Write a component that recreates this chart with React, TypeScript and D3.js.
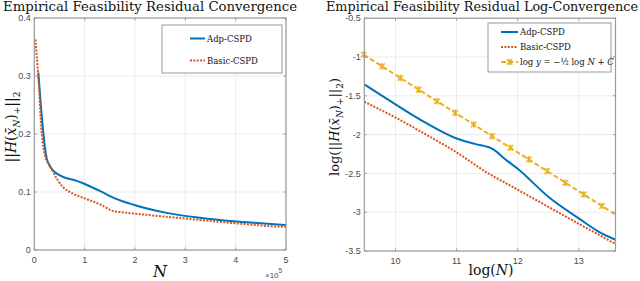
import * as d3 from 'd3';

// left panel: N vs residual
const adpN = [8000, 13000, 18000, 24600, 33000, 44500, 60000, 77500, 97000, 115000, 130000, 160000, 197000, 263000, 329000, 395000, 450000, 500000];
const adpRes = [0.306, 0.25, 0.201, 0.158, 0.142, 0.132, 0.125, 0.121, 0.115, 0.108, 0.102, 0.089, 0.078, 0.064, 0.0555, 0.0495, 0.046, 0.043];
const basicN = [2000, 8000, 14700, 21300, 30000, 37700, 47000, 57600, 75000, 97000, 130000, 157000, 175000, 230000, 296000, 362000, 428000, 470000, 500000];
const basicRes = [0.363, 0.299, 0.201, 0.163, 0.146, 0.134, 0.12, 0.108, 0.098, 0.09, 0.079, 0.067, 0.065, 0.06, 0.0546, 0.049, 0.044, 0.041, 0.04];

// right panel: log N vs log residual
const adpLogN = [9.49, 10, 10.5, 11, 11.3, 11.6, 11.8, 12, 12.5, 13, 13.3, 13.6];
const adpLogRes = [-1.353, -1.61, -1.85, -2.05, -2.12, -2.19, -2.32, -2.44, -2.8, -3.08, -3.24, -3.355];
const basicLogN = [9.49, 10, 10.5, 11, 11.5, 12, 12.5, 13, 13.3, 13.6];
const basicLogRes = [-1.577, -1.78, -2.0, -2.23, -2.49, -2.71, -2.93, -3.15, -3.28, -3.41];
const refLogN = [9.48, 9.78, 10.08, 10.38, 10.68, 10.98, 11.28, 11.58, 11.88, 12.18, 12.48, 12.78, 13.08, 13.38, 13.6];
const refLogRes = [-0.97, -1.12, -1.27, -1.42, -1.57, -1.72, -1.87, -2.02, -2.17, -2.32, -2.47, -2.62, -2.77, -2.92, -3.03];
const refMarked = 14; // markers on the first 14 points

const leftXTicks = [0, 1, 2, 3, 4, 5];
const leftYTicks = [0, 0.1, 0.2, 0.3, 0.4];
const rightXTicks = [10, 11, 12, 13];
const rightYTicks = [-0.5, -1, -1.5, -2, -2.5, -3, -3.5];

const BLUE = '#0072BD';
const RED = '#D95319';
const GOLD = '#EDB120';
const AXIS = '#9a9a9a';
const GRID = '#ebebeb';
const TICKTXT = '#4a4a4a';
const SERIF = '"DejaVu Serif", serif';
const SANS = '"Liberation Sans", Arial, sans-serif';

function Grid({ x, y, xTicks, yTicks }: any) {
  const [x0, x1] = x.range();
  const [y1, y0] = y.range();
  return (
    <g>
      {xTicks.map((t: number) => (
        <line key={'gx' + t} x1={x(t)} x2={x(t)} y1={y0} y2={y1} stroke={GRID} />
      ))}
      {yTicks.map((t: number) => (
        <line key={'gy' + t} x1={x0} x2={x1} y1={y(t)} y2={y(t)} stroke={GRID} />
      ))}
    </g>
  );
}

function Box({ x, y, xTicks, yTicks }: any) {
  const [x0, x1] = x.range();
  const [y1, y0] = y.range();
  return (
    <g>
      <rect x={x0} y={y0} width={x1 - x0} height={y1 - y0} fill="none" stroke={AXIS} strokeWidth={1.2} />
      {xTicks.map((t: number) => (
        <g key={'tx' + t}>
          <line x1={x(t)} x2={x(t)} y1={y1} y2={y1 - 2.5} stroke={AXIS} />
          <line x1={x(t)} x2={x(t)} y1={y0} y2={y0 + 2.5} stroke={AXIS} />
          <text x={x(t)} y={y1 + 12.5} textAnchor="middle" fontFamily={SANS} fontSize={9} fill={TICKTXT}>
            {String(t)}
          </text>
        </g>
      ))}
      {yTicks.map((t: number) => (
        <g key={'ty' + t}>
          <line x1={x0} x2={x0 + 2.5} y1={y(t)} y2={y(t)} stroke={AXIS} />
          <line x1={x1} x2={x1 - 2.5} y1={y(t)} y2={y(t)} stroke={AXIS} />
          <text x={x0 - 3.5} y={y(t)} dy="0.35em" textAnchor="end" fontFamily={SANS} fontSize={9} fill={TICKTXT}>
            {String(t)}
          </text>
        </g>
      ))}
    </g>
  );
}

function asterisk(cx: number, cy: number, r: number) {
  const p = d3.path();
  p.moveTo(cx - r, cy - r); p.lineTo(cx + r, cy + r);
  p.moveTo(cx - r, cy + r); p.lineTo(cx + r, cy - r);
  p.moveTo(cx, cy - r * 1.2); p.lineTo(cx, cy + r * 1.2);
  return p.toString();
}

function NormLabel() {
  return (
    <>
      <tspan>||</tspan>
      <tspan fontStyle="italic">H</tspan>
      <tspan>(</tspan>
      <tspan fontStyle="italic">x̄</tspan>
      <tspan fontStyle="italic" fontSize="9" dy="3.5">N</tspan>
      <tspan dy="-3.5">)</tspan>
      <tspan fontSize="9" dy="3.5">+</tspan>
      <tspan dy="-3.5">||</tspan>
      <tspan fontSize="9" dy="3.5">2</tspan>
    </>
  );
}

export default function App() {
  const W = 640;
  const H = 281;

  const lx = d3.scaleLinear().domain([0, 5e5]).range([34.3, 286]);
  const ly = d3.scaleLinear().domain([0, 0.4]).range([250, 18]);
  const lxt = d3.scaleLinear().domain([0, 5]).range([34.3, 286]);

  const rx = d3.scaleLinear().domain([9.49, 13.6]).range([364.3, 615.5]);
  const ry = d3.scaleLinear().domain([-3.5, -0.5]).range([251, 18.2]);

  const leftLine = d3.line<[number, number]>().x((d) => lx(d[0])).y((d) => ly(d[1])).curve(d3.curveMonotoneX);
  const rightLine = d3.line<[number, number]>().x((d) => rx(d[0])).y((d) => ry(d[1])).curve(d3.curveMonotoneX);
  const linear = d3.line<[number, number]>().x((d) => rx(d[0])).y((d) => ry(d[1]));

  const adpL = adpN.map((n, i) => [n, adpRes[i]] as [number, number]);
  const basicL = basicN.map((n, i) => [n, basicRes[i]] as [number, number]);
  const adpR = adpLogN.map((n, i) => [n, adpLogRes[i]] as [number, number]);
  const basicR = basicLogN.map((n, i) => [n, basicLogRes[i]] as [number, number]);
  const refR = refLogN.map((n, i) => [n, refLogRes[i]] as [number, number]);

  return (
    <svg width={W} height={H} style={{ position: 'absolute', left: 0, top: 0, background: '#fff' }}>
      <rect width={W} height={H} fill="#fff" />

      {/* left panel */}
      <Grid x={lxt} y={ly} xTicks={leftXTicks} yTicks={leftYTicks} />
      <path d={leftLine(adpL) ?? ''} fill="none" stroke={BLUE} strokeWidth={2} />
      <path d={leftLine(basicL) ?? ''} fill="none" stroke={RED} strokeWidth={2} strokeDasharray="2 1.4" />
      <Box x={lxt} y={ly} xTicks={leftXTicks} yTicks={leftYTicks} />

      <text x={150} y={10.5} textAnchor="middle" fontFamily={SERIF} fontSize={12} textLength={294} lengthAdjust="spacingAndGlyphs" fill="#111">
        Empirical Feasibility Residual Convergence
      </text>

      <g>
        <rect x={162} y={25} width={120} height={48} fill="#fff" stroke={AXIS} strokeWidth={1} />
        <line x1={190} x2={205} y1={38.5} y2={38.5} stroke={BLUE} strokeWidth={2} />
        <text x={207} y={41.5} fontFamily={SERIF} fontSize={8.5} fill="#111">Adp-CSPD</text>
        <line x1={190} x2={205} y1={60.5} y2={60.5} stroke={RED} strokeWidth={2} strokeDasharray="2 1.4" />
        <text x={207} y={63.5} fontFamily={SERIF} fontSize={8.5} fill="#111">Basic-CSPD</text>
      </g>

      <text transform="translate(16,127) rotate(-90)" textAnchor="middle" fontFamily={SERIF} fontSize={14} fill="#111">
        <NormLabel />
      </text>

      <text x={160} y={276.5} textAnchor="middle" fontFamily={SERIF} fontStyle="italic" fontSize={16} fill="#111">N</text>
      <text x={265} y={277.5} fontFamily={SANS} fontSize={8} fill={TICKTXT}>
        ×10<tspan fontSize={6.5} dy={-4.5}>5</tspan>
      </text>

      {/* right panel */}
      <Grid x={rx} y={ry} xTicks={rightXTicks} yTicks={rightYTicks} />
      <path d={linear(refR) ?? ''} fill="none" stroke={GOLD} strokeWidth={2} strokeDasharray="5 2.5" />
      {refR.slice(0, refMarked).map((d, i) => (
        <path key={'m' + i} d={asterisk(rx(d[0]), ry(d[1]), 2.8)} stroke={GOLD} strokeWidth={1.4} fill="none" />
      ))}
      <path d={rightLine(adpR) ?? ''} fill="none" stroke={BLUE} strokeWidth={2} />
      <path d={rightLine(basicR) ?? ''} fill="none" stroke={RED} strokeWidth={2} strokeDasharray="2 1.4" />
      <Box x={rx} y={ry} xTicks={rightXTicks} yTicks={rightYTicks} />

      <text x={482} y={10.5} textAnchor="middle" fontFamily={SERIF} fontSize={12} textLength={312} lengthAdjust="spacingAndGlyphs" fill="#111">
        Empirical Feasibility Residual Log-Convergence
      </text>

      <g>
        <rect x={488} y={23} width={123} height={49} fill="#fff" stroke={AXIS} strokeWidth={1} />
        <line x1={501} x2={518} y1={32} y2={32} stroke={BLUE} strokeWidth={2} />
        <text x={520} y={35} fontFamily={SERIF} fontSize={8.5} fill="#111">Adp-CSPD</text>
        <line x1={501} x2={518} y1={47} y2={47} stroke={RED} strokeWidth={2} strokeDasharray="2 1.4" />
        <text x={520} y={50} fontFamily={SERIF} fontSize={8.5} fill="#111">Basic-CSPD</text>
        <line x1={501} x2={518} y1={62} y2={62} stroke={GOLD} strokeWidth={2} strokeDasharray="5 2.5" />
        <path d={asterisk(509.5, 62, 2.8)} stroke={GOLD} strokeWidth={1.4} fill="none" />
        <text x={520} y={65} fontFamily={SERIF} fontSize={8.5} fill="#111">
          log <tspan fontStyle="italic">y</tspan> = −½ log <tspan fontStyle="italic">N</tspan> + <tspan fontStyle="italic">C</tspan>
        </text>
      </g>

      <text transform="translate(339,127) rotate(-90)" textAnchor="middle" fontFamily={SERIF} fontSize={13} fill="#111">
        <tspan>log(</tspan>
        <NormLabel />
        <tspan dy="-3.5">)</tspan>
      </text>

      <text x={491} y={275} textAnchor="middle" fontFamily={SERIF} fontSize={14} fill="#111">
        log(<tspan fontStyle="italic">N</tspan>)
      </text>
    </svg>
  );
}
